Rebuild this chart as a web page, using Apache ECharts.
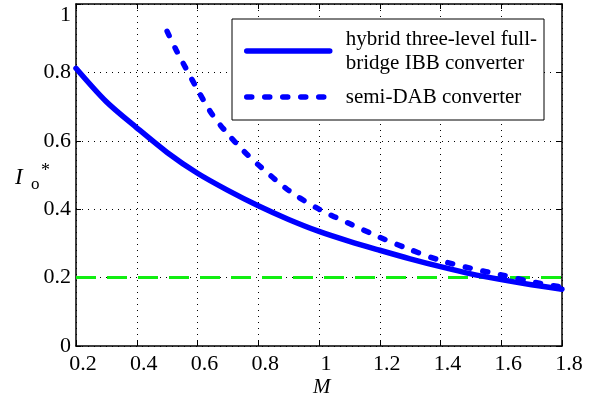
<!DOCTYPE html>
<html>
<head>
<meta charset="utf-8">
<script src="https://cdn.jsdelivr.net/npm/echarts@6/dist/echarts.min.js"></script>
<style>html,body{margin:0;padding:0;background:#fff;}#c{width:597px;height:403px;}
#fw{position:absolute;left:-9999px;top:0;font-family:"Liberation Serif";font-size:22px;}</style>
</head>
<body>
<div id="fw">0.8 hybrid <i>M I</i></div>
<div id="c"></div>
<script>
// Data
const solidM = [0.2, 0.3, 0.4, 0.5, 0.6, 0.7, 0.8, 0.9, 1.0, 1.1, 1.2, 1.3, 1.4, 1.5, 1.6, 1.7, 1.8];
const solidI = [0.812, 0.714, 0.638, 0.566, 0.505, 0.455, 0.41, 0.37, 0.335, 0.306, 0.28, 0.255, 0.232, 0.211, 0.194, 0.179, 0.166];
const dashM = [0.5, 0.53, 0.6, 0.65, 0.7, 0.75, 0.8, 0.9, 1.0, 1.1, 1.2, 1.3, 1.4, 1.5, 1.6, 1.7, 1.8];
const dashI = [0.92, 0.865, 0.75, 0.675, 0.62, 0.572, 0.53, 0.455, 0.40, 0.358, 0.318, 0.282, 0.25, 0.227, 0.208, 0.188, 0.172];
const limitM = [0.2, 1.8];
const limitI = [0.2, 0.2];
const seriesNames = ['hybrid three-level full-\nbridge IBB converter', 'semi-DAB converter'];
const xTicks = {min: 0.2, max: 1.8, interval: 0.2};
const yTicks = {min: 0, max: 1, interval: 0.2};

const zip = (a, b) => a.map((v, i) => [v, b[i]]);
const fmt = v => String(Math.round(v * 10) / 10);
const lineW = 5.5;

function mkAxis(extra) {
  return Object.assign({
    type: 'value',
    axisLine: {show: true, onZero: false, lineStyle: {color: '#000', width: 1.5}},
    axisTick: {show: true, inside: true, length: 5, lineStyle: {color: '#000', width: 1}},
    splitLine: {show: false}
  }, extra);
}

function build(FONT) {
  return {
    animation: false,
    backgroundColor: '#fff',
    textStyle: {fontFamily: FONT},
    grid: {left: 76, right: 35, top: 4, bottom: 57},
    xAxis: [
      mkAxis({
        position: 'bottom', min: xTicks.min, max: xTicks.max, interval: xTicks.interval,
        axisLabel: {formatter: fmt, color: '#000', fontFamily: FONT, fontSize: 22, margin: 7, padding: [0, 0, 0, 14]},
        splitLine: {show: true, lineStyle: {color: '#000', width: 1, type: [1, 5]}}
      }),
      mkAxis({
        position: 'top', min: xTicks.min, max: xTicks.max, interval: xTicks.interval,
        axisLabel: {show: false}
      })
    ],
    yAxis: [
      mkAxis({
        position: 'left', min: yTicks.min, max: yTicks.max, interval: yTicks.interval,
        axisLabel: {formatter: fmt, color: '#000', fontFamily: FONT, fontSize: 22, margin: 5,
                    verticalAlignMaxLabel: 'top'},
        splitLine: {show: true, lineStyle: {color: '#000', width: 1, type: [1, 5]}}
      }),
      mkAxis({
        position: 'right', min: yTicks.min, max: yTicks.max, interval: yTicks.interval,
        axisLabel: {show: false}
      })
    ],
    legend: {
      orient: 'vertical',
      left: 232, top: 19,
      padding: [8, 7, 11, 12],
      itemGap: 10,
      itemWidth: 83, itemHeight: 14,
      backgroundColor: '#fff',
      borderColor: '#000', borderWidth: 1, borderRadius: 0,
      itemStyle: {opacity: 0},
      data: [
        {name: seriesNames[0], lineStyle: {width: lineW, type: 'solid', cap: 'round', color: '#0000ff'}},
        {name: seriesNames[1], lineStyle: {width: lineW, type: [5, 13], cap: 'round', color: '#0000ff'}}
      ],
      textStyle: {color: '#000', fontFamily: FONT, fontSize: 21, lineHeight: 24, padding: [0, 0, 0, 11]}
    },
    series: [
      {
        name: 'limit', type: 'line', data: zip(limitM, limitI), symbol: 'none', silent: true,
        lineStyle: {color: '#11ee11', width: 3, type: [20, 11]}, z: 1
      },
      {
        name: seriesNames[1], type: 'line', data: zip(dashM, dashI), symbol: 'none', smooth: 0.3,
        lineStyle: {color: '#0000ff', width: lineW, type: [5, 13], cap: 'round'},
        itemStyle: {color: '#0000ff'}, z: 3
      },
      {
        name: seriesNames[0], type: 'line', data: zip(solidM, solidI), symbol: 'none', smooth: 0.3,
        lineStyle: {color: '#0000ff', width: lineW, cap: 'round'},
        itemStyle: {color: '#0000ff'}, z: 4
      }
    ],
    graphic: [
      {type: 'text', left: 15, top: 166, style: {text: 'I', fontFamily: FONT, fontStyle: 'italic', fontSize: 23, fill: '#000'}},
      {type: 'text', left: 31, top: 176, style: {text: 'o', fontFamily: FONT, fontSize: 17, fill: '#000'}},
      {type: 'text', left: 41, top: 162, style: {text: '*', fontFamily: FONT, fontSize: 18, fill: '#000'}},
      {type: 'text', left: 313, top: 377, style: {text: 'M', fontFamily: FONT, fontStyle: 'italic', fontSize: 21, fill: '#000'}}
    ]
  };
}

const chart = echarts.init(document.getElementById('c'));
chart.setOption(build('Liberation Serif'));

function rerender() {
  chart.clear();
  chart.setOption(build('"Liberation Serif", serif'), true);
}
if (document.fonts && document.fonts.load) {
  Promise.all([
    document.fonts.load('22px "Liberation Serif"'),
    document.fonts.load('italic 22px "Liberation Serif"')
  ]).then(rerender, rerender);
}
</script>
</body>
</html>
